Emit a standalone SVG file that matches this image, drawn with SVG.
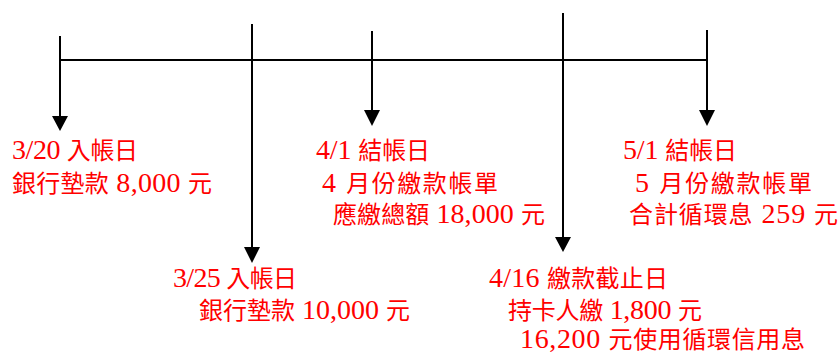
<svg xmlns="http://www.w3.org/2000/svg" width="840" height="353" viewBox="0 0 840 353">
<style>
.t{font-family:'Liberation Serif','Noto Sans CJK TC',serif;font-size:24px;fill:#ff0000}
.n{font-family:'Liberation Serif',serif;font-size:28px}
.ln{stroke:#000;stroke-width:2;fill:none}
.ah{fill:#000}
</style>
<rect width="840" height="353" fill="#fff"/>
<g id="connectors">
<line class="ln" x1="59" y1="60" x2="708" y2="60"/>
<line class="ln" x1="60" y1="36" x2="60" y2="118"/>
<polygon class="ah" points="52,116 68,116 60,131"/>
<line class="ln" x1="252" y1="24" x2="252" y2="249"/>
<polygon class="ah" points="244,247 260,247 252,263"/>
<line class="ln" x1="372" y1="31" x2="372" y2="112"/>
<polygon class="ah" points="364,110 380,110 372,126"/>
<line class="ln" x1="563" y1="13" x2="563" y2="239"/>
<polygon class="ah" points="555,237 571,237 563,252"/>
<line class="ln" x1="707" y1="30" x2="707" y2="112"/>
<polygon class="ah" points="699,110 715,110 707,126"/>
</g>
<g id="node-0320">
<text class="t" x="12" y="159" textLength="126" lengthAdjust="spacing"><tspan class="n">3/20 </tspan>入帳日</text>
<text class="t" x="12" y="192" textLength="200" lengthAdjust="spacing">銀行墊款<tspan class="n"> 8,000 </tspan>元</text>
</g>
<g id="node-0325">
<text class="t" x="173" y="287" textLength="124" lengthAdjust="spacing"><tspan class="n">3/25 </tspan>入帳日</text>
<text class="t" x="199" y="319" textLength="211" lengthAdjust="spacing">銀行墊款<tspan class="n"> 10,000 </tspan>元</text>
</g>
<g id="node-0401">
<text class="t" x="316" y="159" textLength="114" lengthAdjust="spacing"><tspan class="n">4/1 </tspan>結帳日</text>
<text class="t" x="322" y="192" textLength="176" lengthAdjust="spacing"><tspan class="n">4 </tspan>月份繳款帳單</text>
<text class="t" x="333" y="223" textLength="212" lengthAdjust="spacing">應繳總額<tspan class="n"> 18,000 </tspan>元</text>
</g>
<g id="node-0416">
<text class="t" x="489" y="287" textLength="179" lengthAdjust="spacing"><tspan class="n">4/16 </tspan>繳款截止日</text>
<text class="t" x="508" y="319" textLength="194" lengthAdjust="spacing">持卡人繳<tspan class="n"> 1,800 </tspan>元</text>
<text class="t" x="520" y="348" textLength="285" lengthAdjust="spacing"><tspan class="n">16,200 </tspan>元使用循環信用息</text>
</g>
<g id="node-0501">
<text class="t" x="623" y="159" textLength="114" lengthAdjust="spacing"><tspan class="n">5/1 </tspan>結帳日</text>
<text class="t" x="635" y="192" textLength="177" lengthAdjust="spacing"><tspan class="n">5 </tspan>月份繳款帳單</text>
<text class="t" x="629" y="223" textLength="209" lengthAdjust="spacing">合計循環息<tspan class="n"> 259 </tspan>元</text>
</g>
</svg>
